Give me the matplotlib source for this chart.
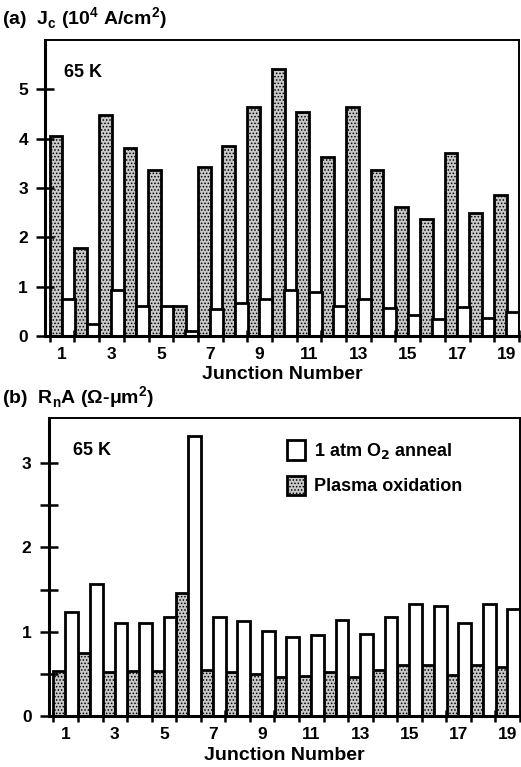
import matplotlib.pyplot as plt
import numpy as np

plt.rcParams["font.family"] = ["Liberation Sans", "DejaVu Sans"]
plt.rcParams["font.weight"] = "bold"
plt.rcParams["hatch.linewidth"] = 0.7

junctions = list(range(1, 20))
odd_labels = [1, 3, 5, 7, 9, 11, 13, 15, 17, 19]

# (a) critical current density, 10^4 A/cm^2
jc_plasma = [4.05, 1.78, 4.47, 3.8, 3.36, 0.6, 3.43, 3.85, 4.63, 5.42,
             4.53, 3.62, 4.63, 3.36, 2.62, 2.38, 3.7, 2.5, 2.86]
jc_anneal = [0.75, 0.24, 0.94, 0.6, 0.6, 0.1, 0.55, 0.66, 0.75, 0.94,
             0.89, 0.61, 0.75, 0.57, 0.42, 0.34, 0.59, 0.37, 0.48]

# (b) RnA, Ohm-um^2
rna_plasma = [0.54, 0.75, 0.52, 0.54, 0.54, 1.46, 0.55, 0.52, 0.5, 0.46,
              0.48, 0.53, 0.47, 0.55, 0.61, 0.61, 0.49, 0.61, 0.59]
rna_anneal = [1.23, 1.57, 1.1, 1.1, 1.17, 3.32, 1.18, 1.13, 1.01, 0.94,
              0.96, 1.14, 0.97, 1.18, 1.33, 1.31, 1.11, 1.33, 1.27]

stipple = dict(color="#c9c9c9", edgecolor="black", hatch=".....", linewidth=2.0)
plain = dict(color="white", edgecolor="black", linewidth=2.0)


def draw_panel(ax, plasma, anneal, ymax):
    x = np.array(junctions)
    w = 0.52
    ax.bar(x - 0.25, plasma, width=w, label="Plasma oxidation", **stipple)
    ax.bar(x + 0.25, anneal, width=w, label="1 atm O$_2$ anneal", **plain)

    ax.set_xlim(0.32, 19.45)
    ax.set_ylim(0, ymax)
    ax.set_xticks(odd_labels)
    ax.set_xticklabels([str(v) for v in odd_labels], fontsize=12.5)
    ax.set_xticks([j + 0.5 for j in range(0, 20)], minor=True)
    ax.tick_params(axis="x", which="major", length=0, pad=8)
    ax.tick_params(axis="x", which="minor", direction="inout", length=8, width=1.8)
    ax.tick_params(axis="y", which="both", direction="inout", length=13, width=1.8,
                   labelsize=12.5, pad=6)
    ax.set_xlabel("Junction Number", fontsize=14, fontweight="bold", labelpad=3)

    for side in ["left", "bottom"]:
        ax.spines[side].set_linewidth(2.2)
    for side in ["top", "right"]:
        ax.spines[side].set_linewidth(1.4)


fig = plt.figure(figsize=(5.21, 7.67), dpi=100)

ax1 = fig.add_axes([0.087, 0.562, 0.909, 0.386])
draw_panel(ax1, jc_plasma, jc_anneal, 6.0)
ax1.set_yticks([0, 1, 2, 3, 4, 5])
ax1.text(0.04, 0.92, "65 K", transform=ax1.transAxes, fontsize=13, va="top")
fig.text(0.004, 0.975, "(a)  J$_\\mathregular{c}$ (10$^\\mathregular{4}$ A/cm$^\\mathregular{2}$)",
         fontsize=14, va="center")

ax2 = fig.add_axes([0.094, 0.066, 0.904, 0.389])
draw_panel(ax2, rna_plasma, rna_anneal, 3.53)
ax2.set_yticks([0, 1, 2, 3])
ax2.set_yticks([0.5, 1.5, 2.5], minor=True)
ax2.text(0.05, 0.92, "65 K", transform=ax2.transAxes, fontsize=13, va="top")
fig.text(0.004, 0.482, "(b)  R$_\\mathregular{n}$A ($\\mathregular{\\Omega}$-$\\mathregular{\\mu}$m$^\\mathregular{2}$)",
         fontsize=14, va="center")

handles, labels = ax2.get_legend_handles_labels()
ax2.legend(handles[::-1], labels[::-1], loc="upper left", bbox_to_anchor=(0.47, 0.98),
           frameon=False, fontsize=13, handlelength=1.0, handleheight=1.3,
           handletextpad=0.5, labelspacing=0.8)

plt.savefig("out.png", dpi=100)
plt.close()
